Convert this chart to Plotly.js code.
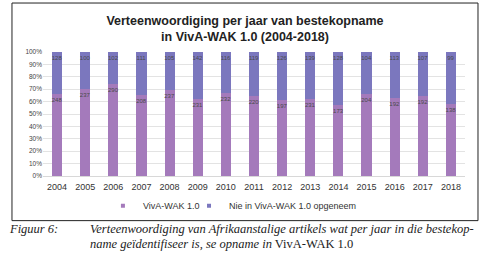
<!DOCTYPE html>
<html>
<head>
<meta charset="utf-8">
<script src="https://cdn.plot.ly/plotly-3.0.1.min.js"></script>
<style>html,body{margin:0;padding:0;background:#fff;}#chart{width:486px;height:264px;}</style>
</head>
<body>
<div id="chart"></div>
<script>
var years = ['2004','2005','2006','2007','2008','2009','2010','2011','2012','2013','2014','2015','2016','2017','2018'];
var inViva = [248,237,290,208,237,231,232,220,197,231,173,204,192,192,138];
var notInViva = [128,100,102,111,105,142,116,119,126,139,128,104,113,107,99];
var seriesNames = ['VivA-WAK 1.0','Nie in VivA-WAK 1.0 opgeneem'];
var seriesColors = ['#a47abb','#7b77be'];

var labelFont = {family:'Liberation Sans, Arial, sans-serif', size:6, color:'#4a4a4a'};
var traces = [
  {type:'bar', name:seriesNames[0], x:years, y:inViva, text:inViva.map(String), showlegend:false,
   textposition:'inside', insidetextanchor:'end', constraintext:'none', textfont:labelFont, textangle:0,
   marker:{color:seriesColors[0]}},
  {type:'bar', name:seriesNames[1], x:years, y:notInViva, text:notInViva.map(String), showlegend:false,
   textposition:'inside', insidetextanchor:'end', constraintext:'none', textfont:labelFont, textangle:0,
   marker:{color:seriesColors[1]}},
  {type:'scatter', mode:'markers', name:seriesNames[0], x:[null], y:[null], legend:'legend',
   marker:{symbol:'square', size:4, color:seriesColors[0]}},
  {type:'scatter', mode:'markers', name:seriesNames[1], x:[null], y:[null], legend:'legend2',
   marker:{symbol:'square', size:4, color:seriesColors[1]}}
];

var legendBase = {orientation:'h', xanchor:'left', y:-0.24, yanchor:'middle', itemwidth:30,
  bgcolor:'rgba(0,0,0,0)', font:{size:9, color:'#333'}};

var layout = {
  width:486, height:264,
  margin:{l:43, r:21, t:52, b:88},
  paper_bgcolor:'#fff', plot_bgcolor:'#fff',
  barmode:'stack', barnorm:'percent', bargap:0.64,
  font:{family:'Liberation Sans, Arial, sans-serif', color:'#333'},
  title:{text:'<b>Verteenwoordiging per jaar van bestekopname<br>in VivA-WAK 1.0 (2004-2018)</b>',
    x:245/486, xanchor:'center', y:1-25/264, yanchor:'middle',
    font:{family:'Liberation Sans, Arial, sans-serif', size:12.5, color:'#222'}},
  xaxis:{type:'category', showgrid:false, showline:false, ticks:'', ticklabelstandoff:4,
    tickfont:{size:9, color:'#333'}},
  yaxis:{range:[0,100], dtick:10, ticksuffix:'%', showline:false, ticks:'',
    gridcolor:'#e3e3e3', gridwidth:1, zeroline:true, zerolinecolor:'#d8d8d8',
    tickfont:{size:6.5, color:'#444'}},
  showlegend:true,
  legend:Object.assign({}, legendBase, {x:0.142}),
  legend2:Object.assign({}, legendBase, {x:0.346}),
  shapes:[{type:'rect', xref:'paper', yref:'paper', x0:-0.0735, x1:1.0308, y0:-0.36, y1:1.395,
    line:{color:'#222', width:1}, fillcolor:'rgba(0,0,0,0)'}],
  annotations:[
    {xref:'paper', yref:'paper', x:-0.085, y:-0.4274, xanchor:'left', yanchor:'middle', showarrow:false,
     text:'<i>Figuur 6:</i>', font:{family:'Liberation Serif, Times New Roman, serif', size:12.5, color:'#222'}},
    {xref:'paper', yref:'paper', x:0.1066, y:-0.4274, xanchor:'left', yanchor:'middle', showarrow:false,
     text:'<i>Verteenwoordiging van Afrikaanstalige artikels wat per jaar in die bestekop-</i>',
     font:{family:'Liberation Serif, Times New Roman, serif', size:12.5, color:'#222'}},
    {xref:'paper', yref:'paper', x:0.1066, y:-0.5484, xanchor:'left', yanchor:'middle', showarrow:false,
     text:'<i>name geïdentifiseer is, se opname in</i> VivA-WAK 1.0',
     font:{family:'Liberation Serif, Times New Roman, serif', size:12.5, color:'#222'}}
  ]
};
Plotly.newPlot('chart', traces, layout, {displayModeBar:false, staticPlot:true});
</script>
</body>
</html>
